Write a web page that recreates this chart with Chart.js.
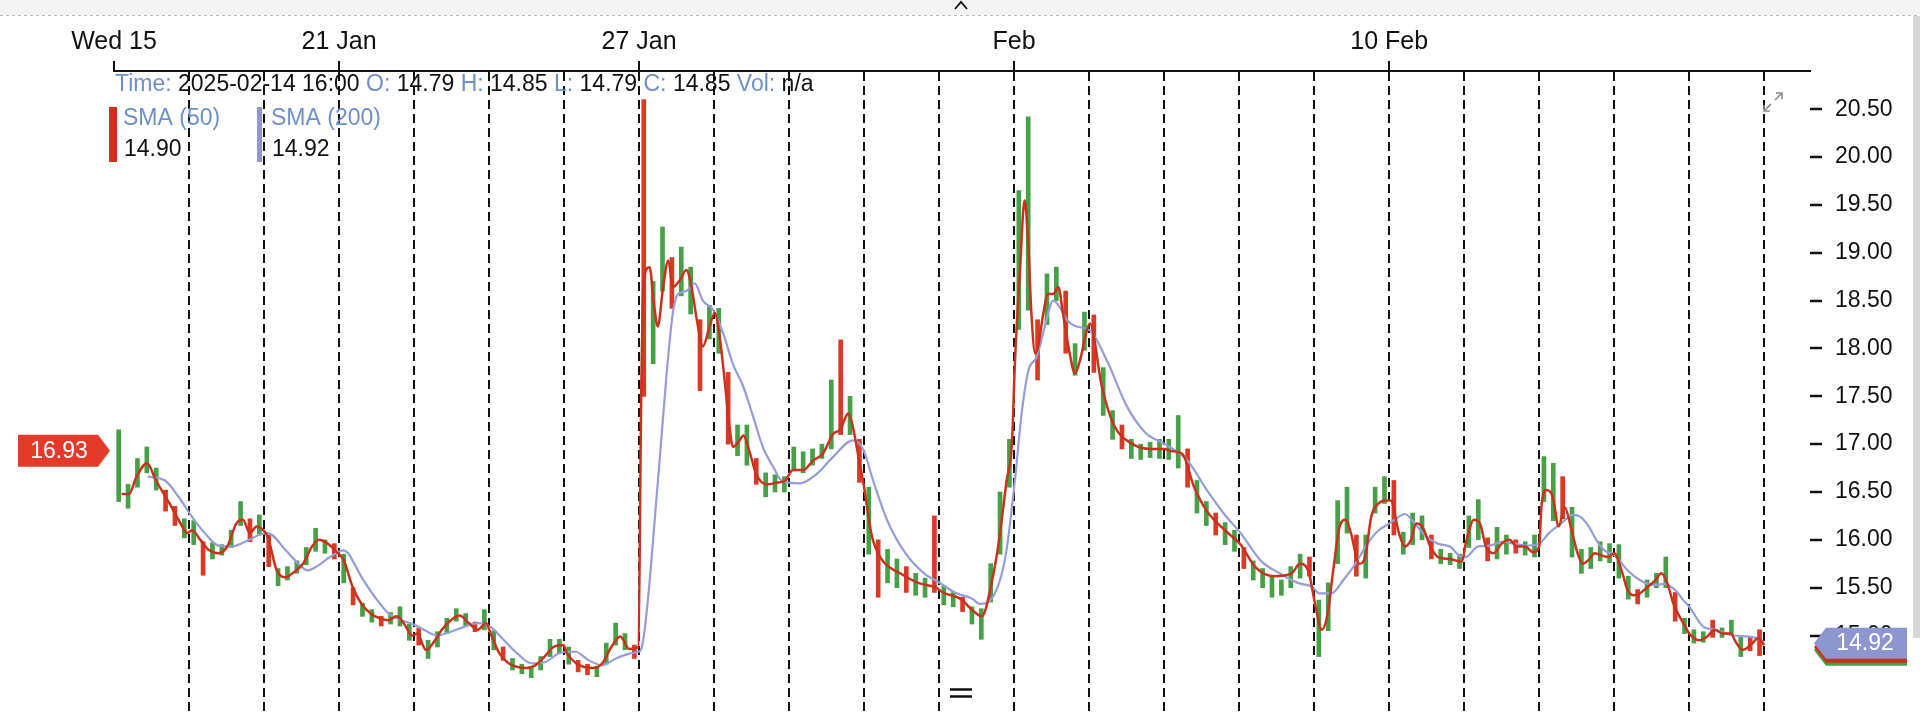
<!DOCTYPE html>
<html lang="en">
<head>
  <meta charset="UTF-8">
  <title>VIX 15 Jan - 14 Feb 2025</title>
  <script src="https://cdn.jsdelivr.net/npm/chart.js"></script>
  <style>
    html, body { margin: 0; padding: 0; background: #fff; overflow: hidden; }
    canvas { display: block; }
  </style>
</head>
<body>
  <canvas id="chart" width="1920" height="713"></canvas>

  <script>
    // x axis = trading day index (0 = Wed 15 Jan ... 21 = Fri 14 Feb)
    const dayLines = [0, 1, 2, 3, 4, 5, 6, 7, 8, 9, 10, 11, 12, 13, 14, 15, 16, 17, 18, 19, 20, 21, 22];
    const tickDays = [0, 3, 7, 12, 17];
    const tickLabels = ['Wed 15', '21 Jan', '27 Jan', 'Feb', '10 Feb'];
    const yTicks = [15.0, 15.5, 16.0, 16.5, 17.0, 17.5, 18.0, 18.5, 19.0, 19.5, 20.0, 20.5];

    // price bars, 8 per trading day (low / high / up-down)
    const barsPerDay = 8;
    const barLow = [
      16.40, 16.33, 16.55, 16.70, 16.52, 16.30, 16.15, 16.02,
      15.95, 15.63, 15.80, 15.84, 15.92, 16.15, 15.98, 16.05,
      15.72, 15.52, 15.58, 15.65, 15.74, 15.88, 15.86, 15.80,
      15.55, 15.32, 15.20, 15.14, 15.10, 15.12, 15.10, 14.95,
      14.90, 14.76, 14.88, 15.02, 15.15, 15.10, 15.04, 15.06,
      14.85, 14.74, 14.64, 14.60, 14.56, 14.64, 14.78, 14.82,
      14.70, 14.62, 14.59, 14.57, 14.70, 14.90, 14.85, 14.76,
      17.50, 17.84, 18.60, 18.42, 18.55, 18.36, 17.56, 18.10,
      17.95, 17.00, 16.88, 16.78, 16.58, 16.45, 16.50, 16.50,
      16.72, 16.70, 16.78, 16.85, 16.95, 17.10, 17.10, 16.60,
      15.85, 15.40, 15.55, 15.50, 15.45, 15.42, 15.40, 15.45,
      15.32, 15.30, 15.25, 15.12, 14.96, 15.35, 15.85, 16.55,
      18.20, 18.40, 17.67, 18.25, 18.50, 17.95, 17.72, 17.98,
      17.75, 17.30, 17.05, 16.95, 16.85, 16.84, 16.86, 16.85,
      16.84, 16.75, 16.55, 16.28, 16.15, 16.05, 15.95, 15.88,
      15.70, 15.58, 15.50, 15.40, 15.42, 15.50, 15.60, 15.62,
      14.78, 15.05, 15.75, 16.07, 15.62, 15.60, 16.28, 16.38,
      16.05, 15.85, 15.95, 16.00, 15.80, 15.75, 15.74, 15.70,
      15.92, 16.00, 15.78, 15.80, 15.85, 15.86, 15.84, 15.82,
      16.40, 16.20, 16.22, 15.82, 15.65, 15.70, 15.78, 15.76,
      15.60, 15.38, 15.33, 15.40, 15.50, 15.50, 15.15, 15.02,
      14.92, 14.93, 14.98, 14.98, 15.00, 14.78, 14.84, 14.79
    ];
    const barHigh = [
      17.15, 16.58, 16.85, 16.97, 16.75, 16.52, 16.35, 16.22,
      16.20, 15.98, 15.97, 15.95, 16.10, 16.40, 16.22, 16.26,
      16.05, 15.70, 15.72, 15.78, 15.92, 16.12, 16.00, 15.96,
      15.85, 15.50, 15.34, 15.27, 15.20, 15.24, 15.30, 15.12,
      15.08, 14.95, 15.04, 15.18, 15.28, 15.23, 15.14, 15.27,
      15.05, 14.88, 14.76, 14.70, 14.67, 14.78, 14.96, 14.96,
      14.88, 14.74, 14.70, 14.68, 14.92, 15.13, 15.02, 14.90,
      20.60, 18.70, 19.27, 18.95, 19.06, 18.85, 18.30, 18.45,
      18.42, 17.75, 17.20, 17.20, 16.85, 16.70, 16.68, 16.66,
      16.97, 16.92, 16.95, 17.00, 17.67, 18.09, 17.50, 17.05,
      16.55, 16.00, 15.90, 15.80, 15.72, 15.65, 15.60, 16.25,
      15.52, 15.45, 15.40, 15.30, 15.28, 15.75, 16.50, 17.05,
      19.65, 20.42, 18.30, 18.78, 18.85, 18.60, 18.05, 18.38,
      18.35, 17.80, 17.35, 17.20, 17.05, 17.00, 17.02, 17.05,
      17.05, 17.30, 16.95, 16.62, 16.40, 16.28, 16.18, 16.10,
      15.92, 15.78, 15.70, 15.62, 15.58, 15.72, 15.85, 15.82,
      15.37, 15.55, 16.41, 16.55, 16.05, 16.05, 16.55, 16.66,
      16.62, 16.08, 16.28, 16.25, 16.05, 15.90, 15.86, 15.85,
      16.25, 16.42, 16.02, 16.13, 16.05, 16.00, 15.98, 16.05,
      16.87, 16.80, 16.66, 16.34, 15.90, 15.92, 15.98, 15.96,
      15.95, 15.62, 15.48, 15.58, 15.65, 15.82, 15.45, 15.18,
      15.06, 15.04, 15.16, 15.08, 15.16, 14.98, 14.99, 15.06
    ];
    const barDir = [
      'uuuuuddu', 'uduuuudu', 'duuuuuud', 'uduuduuu', 'duuuuudu', 'uduuuuuu',
      'udduuuud', 'duuduudu', 'uduuduuu', 'uuuuudud', 'uduuduud', 'uuduuuuu',
      'uuduuduu', 'duuduuuu', 'uuduuduu', 'duuuuuud', 'uuuuduuu', 'duuuduuu',
      'uuduuduu', 'uuduuuuu', 'uuduuudu', 'uuduuudd'
    ].join('');

    // moving averages as [day, value]
    const sma50 = [
      [0.10, 16.48], [0.20, 16.48], [0.30, 16.66], [0.44, 16.80], [0.56, 16.62], [0.74, 16.38], [0.86, 16.21], [0.98, 16.07],
      [1.04, 16.10], [1.15, 16.00], [1.27, 15.89], [1.39, 15.86], [1.51, 15.93], [1.63, 16.17], [1.72, 16.21], [1.81, 16.07], [1.90, 16.14], [1.99, 16.10],
      [2.05, 16.03], [2.17, 15.68], [2.29, 15.61], [2.41, 15.67], [2.52, 15.75], [2.64, 15.93], [2.73, 16.00], [2.85, 15.96], [2.97, 15.87],
      [3.06, 15.79], [3.18, 15.51], [3.30, 15.33], [3.42, 15.23], [3.54, 15.18], [3.66, 15.16], [3.77, 15.20], [3.86, 15.13], [3.98, 15.00],
      [4.04, 15.02], [4.16, 14.85], [4.28, 14.95], [4.37, 15.06], [4.49, 15.16], [4.61, 15.21], [4.73, 15.13], [4.85, 15.06], [4.96, 15.13],
      [5.02, 15.02], [5.14, 14.81], [5.26, 14.71], [5.38, 14.67], [5.50, 14.66], [5.62, 14.69], [5.74, 14.78], [5.86, 14.88], [5.99, 14.90],
      [6.04, 14.81], [6.16, 14.71], [6.27, 14.67], [6.39, 14.66], [6.51, 14.71], [6.63, 14.88], [6.75, 14.99], [6.87, 14.86], [6.99, 14.88],
      [7.03, 17.60], [7.06, 18.70], [7.14, 18.85], [7.20, 18.45], [7.25, 18.23], [7.32, 18.64], [7.39, 18.92], [7.45, 18.64], [7.54, 18.71],
      [7.63, 18.82], [7.70, 18.64], [7.77, 18.30], [7.85, 18.02], [7.94, 18.23],
      [8.01, 18.37], [8.08, 18.09], [8.14, 17.67], [8.21, 17.15], [8.25, 16.97], [8.34, 17.04], [8.39, 17.09], [8.48, 16.90], [8.56, 16.69],
      [8.70, 16.58], [8.85, 16.60], [8.95, 16.62],
      [9.05, 16.73], [9.19, 16.73], [9.32, 16.83], [9.45, 16.90], [9.59, 17.11], [9.68, 17.15], [9.79, 17.32], [9.85, 17.18], [9.94, 16.80],
      [10.00, 16.55], [10.10, 16.05], [10.23, 15.80], [10.48, 15.65], [10.72, 15.55], [10.96, 15.50],
      [11.05, 15.45], [11.29, 15.38], [11.45, 15.26], [11.57, 15.20], [11.70, 15.55], [11.80, 16.00], [11.90, 16.62], [11.97, 17.00],
      [12.01, 17.84], [12.08, 18.85], [12.14, 19.55], [12.19, 19.06], [12.23, 18.37], [12.28, 17.95], [12.32, 18.02], [12.39, 18.37],
      [12.45, 18.57], [12.52, 18.57], [12.59, 18.64], [12.65, 18.37], [12.74, 17.95], [12.81, 17.74], [12.88, 17.88], [12.96, 18.16],
      [13.01, 18.26], [13.17, 17.60], [13.33, 17.20], [13.58, 17.00], [13.82, 16.95],
      [14.01, 16.95], [14.07, 16.93], [14.24, 16.90], [14.40, 16.55], [14.57, 16.30], [14.81, 16.10],
      [15.02, 15.95], [15.21, 15.72], [15.46, 15.62], [15.70, 15.65], [15.81, 15.75], [15.92, 15.68],
      [16.02, 15.30], [16.10, 15.06], [16.18, 15.23], [16.26, 15.72], [16.34, 16.14], [16.42, 16.21], [16.49, 16.07], [16.60, 15.75],
      [16.68, 15.82], [16.76, 16.24], [16.86, 16.38], [16.97, 16.41],
      [17.02, 16.41], [17.13, 16.07], [17.21, 15.93], [17.29, 16.00], [17.36, 16.17], [17.44, 16.14], [17.55, 15.93], [17.65, 15.82],
      [17.81, 15.80], [17.97, 15.77],
      [18.02, 15.96], [18.13, 16.21], [18.21, 16.17], [18.29, 15.93], [18.39, 15.86], [18.50, 15.96], [18.60, 16.00], [18.71, 15.93],
      [18.81, 15.93], [18.92, 15.87], [19.00, 15.93],
      [19.03, 16.35], [19.10, 16.52], [19.18, 16.45], [19.26, 16.14], [19.34, 16.34], [19.42, 16.14], [19.50, 15.89], [19.58, 15.75],
      [19.66, 15.79], [19.74, 15.86], [19.82, 15.84], [19.92, 15.82], [20.00, 15.86],
      [20.11, 15.65], [20.18, 15.47], [20.26, 15.42], [20.34, 15.44], [20.45, 15.51], [20.55, 15.58], [20.63, 15.65], [20.71, 15.54],
      [20.79, 15.33], [20.87, 15.20], [20.95, 15.09], [21.00, 15.02],
      [21.13, 14.95], [21.24, 14.99], [21.34, 15.06], [21.45, 15.02], [21.55, 15.02], [21.63, 14.92], [21.71, 14.85], [21.82, 14.90],
      [21.92, 14.97], [22.00, 14.90]
    ];
    const sma200 = [
      [0.45, 16.66], [0.68, 16.62], [0.86, 16.45], [1.04, 16.24], [1.21, 16.07], [1.39, 15.94], [1.57, 15.93], [1.75, 15.98], [1.93, 16.05],
      [2.05, 16.07], [2.29, 15.89], [2.46, 15.75], [2.58, 15.68], [2.70, 15.72], [2.88, 15.82], [3.06, 15.89],
      [3.12, 15.86], [3.30, 15.61], [3.48, 15.40], [3.66, 15.23], [3.83, 15.16], [4.01, 15.11],
      [4.13, 15.06], [4.31, 15.00], [4.49, 15.04], [4.67, 15.09], [4.85, 15.13], [5.02, 15.09],
      [5.20, 14.95], [5.38, 14.81], [5.56, 14.71], [5.74, 14.72], [5.92, 14.81], [6.04, 14.83],
      [6.15, 14.83], [6.33, 14.74], [6.51, 14.69], [6.69, 14.76], [6.87, 14.81], [6.99, 14.83],
      [7.03, 14.86], [7.25, 16.60], [7.36, 17.67], [7.45, 18.37], [7.52, 18.57], [7.63, 18.60], [7.74, 18.68], [7.85, 18.50], [7.99, 18.40],
      [8.12, 18.16], [8.25, 17.84], [8.39, 17.60], [8.52, 17.29], [8.65, 16.97], [8.79, 16.76], [8.90, 16.62], [9.14, 16.59],
      [9.37, 16.69], [9.59, 16.87], [9.85, 17.04], [9.99, 16.94], [10.12, 16.62],
      [10.31, 16.20], [10.56, 15.85], [10.80, 15.65], [11.01, 15.55],
      [11.21, 15.45], [11.45, 15.38], [11.54, 15.33], [11.73, 15.42], [11.89, 15.85], [12.01, 16.62],
      [12.10, 17.32], [12.19, 17.77], [12.30, 17.91], [12.41, 18.23], [12.52, 18.50], [12.61, 18.43], [12.70, 18.30], [12.83, 18.23], [13.01, 18.19],
      [13.25, 17.85], [13.50, 17.40], [13.75, 17.12], [14.01, 17.00],
      [14.31, 16.83], [14.57, 16.52], [14.81, 16.26], [15.02, 16.07],
      [15.29, 15.78], [15.54, 15.65], [15.78, 15.55], [15.97, 15.51],
      [16.07, 15.44], [16.23, 15.44], [16.39, 15.58], [16.55, 15.75], [16.71, 15.96], [16.86, 16.10], [17.00, 16.17],
      [17.07, 16.21], [17.21, 16.27], [17.34, 16.17], [17.50, 16.03], [17.65, 15.96], [17.81, 15.93], [17.97, 15.82],
      [18.02, 15.82], [18.18, 15.93], [18.34, 15.94], [18.50, 15.98], [18.66, 15.96], [18.81, 15.94], [19.00, 15.96],
      [19.13, 16.07], [19.29, 16.17], [19.45, 16.26], [19.55, 16.24], [19.66, 16.14], [19.76, 16.00], [19.87, 15.89], [20.00, 15.84],
      [20.18, 15.68], [20.34, 15.58], [20.45, 15.54], [20.55, 15.53], [20.66, 15.54], [20.82, 15.47], [20.92, 15.37], [21.00, 15.30],
      [21.19, 15.09], [21.34, 15.06], [21.50, 15.02], [21.61, 15.00], [21.77, 14.99], [21.92, 14.97], [22.00, 14.93]
    ];

    // header texts
    const infoLabels = ['Time:', 'O:', 'H:', 'L:', 'C:', 'Vol:'];
    const infoValues = ['2025-02-14 16:00', '14.79', '14.85', '14.79', '14.85', 'n/a'];
    const smaNames = ['SMA (50)', 'SMA (200)'];
    const smaLast = ['14.90', '14.92'];
    const firstPrice = 16.93;
    const lastPrice = 14.92;

    const FONT = '"Liberation Sans", Arial, sans-serif';
    const GREEN = '#45a046';
    const RED = '#d93a26';
    const SMA50_COLOR = '#c9321d';
    const SMA200_COLOR = '#949dd8';
    const LABEL_BLUE = '#6f90c6';
    const INK = '#111';

    const barTime = barLow.map((_, i) => (i + 0.5) / barsPerDay);

    const overlay = {
      id: 'overlay',
      beforeDraw(chart) {
        const ctx = chart.ctx;
        ctx.save();
        ctx.fillStyle = '#fff';
        ctx.fillRect(0, 0, chart.width, chart.height);
        // top strip of the page
        ctx.fillStyle = '#f3f3f3';
        ctx.fillRect(0, 0, chart.width, 15);
        ctx.strokeStyle = '#b8b8b8';
        ctx.lineWidth = 1;
        ctx.setLineDash([3, 3]);
        ctx.beginPath();
        ctx.moveTo(0, 15.5);
        ctx.lineTo(chart.width, 15.5);
        ctx.stroke();
        ctx.restore();
      },
      afterDraw(chart) {
        const ctx = chart.ctx;
        const ys = chart.scales.y;
        ctx.save();
        ctx.textBaseline = 'middle';
        ctx.font = '23px ' + FONT;

        // info line
        let x = 115;
        infoLabels.forEach((lab, i) => {
          ctx.fillStyle = LABEL_BLUE;
          ctx.fillText(lab + ' ', x, 85);
          x += ctx.measureText(lab + ' ').width;
          ctx.fillStyle = INK;
          ctx.fillText(infoValues[i] + ' ', x, 85);
          x += ctx.measureText(infoValues[i] + ' ').width;
        });

        // indicator legend
        const legX = [109, 257];
        const legW = [8, 5];
        const legC = [SMA50_COLOR, '#8f97d1'];
        smaNames.forEach((name, i) => {
          ctx.fillStyle = legC[i];
          ctx.fillRect(legX[i], 107, legW[i], 55);
          ctx.fillStyle = LABEL_BLUE;
          ctx.fillText(name, legX[i] + 14, 119);
          ctx.fillStyle = INK;
          ctx.fillText(smaLast[i], legX[i] + 15, 150);
        });

        // left price tag
        const ly = ys.getPixelForValue(firstPrice);
        ctx.fillStyle = '#e5392a';
        ctx.beginPath();
        ctx.moveTo(18, ly - 16);
        ctx.lineTo(98, ly - 16);
        ctx.lineTo(110, ly);
        ctx.lineTo(98, ly + 16);
        ctx.lineTo(18, ly + 16);
        ctx.closePath();
        ctx.fill();
        ctx.fillStyle = '#fff';
        ctx.textAlign = 'center';
        ctx.fillText(firstPrice.toFixed(2), 59, ly + 1);

        // right price tag (stacked)
        const ry = ys.getPixelForValue(lastPrice);
        const tag = (dy, color) => {
          ctx.fillStyle = color;
          ctx.beginPath();
          ctx.moveTo(1814, ry + dy);
          ctx.lineTo(1826, ry + dy - 15.5);
          ctx.lineTo(1907, ry + dy - 15.5);
          ctx.lineTo(1907, ry + dy + 15.5);
          ctx.lineTo(1826, ry + dy + 15.5);
          ctx.closePath();
          ctx.fill();
        };
        tag(7, GREEN);
        tag(4, SMA50_COLOR);
        tag(0, '#8d96cf');
        ctx.fillStyle = '#fff';
        ctx.fillText(lastPrice.toFixed(2), 1865, ry + 1);

        // expand icon
        ctx.strokeStyle = '#8c8c8c';
        ctx.lineWidth = 1.6;
        ctx.beginPath();
        ctx.moveTo(1771, 104); ctx.lineTo(1764, 111);
        ctx.moveTo(1764, 105); ctx.lineTo(1764, 111); ctx.lineTo(1770, 111);
        ctx.moveTo(1775, 100); ctx.lineTo(1782, 93);
        ctx.moveTo(1776, 93); ctx.lineTo(1782, 93); ctx.lineTo(1782, 99);
        ctx.stroke();

        // caret at top and handle at bottom
        ctx.strokeStyle = INK;
        ctx.lineWidth = 1.8;
        ctx.beginPath();
        ctx.moveTo(955, 9); ctx.lineTo(961, 2); ctx.lineTo(967, 9);
        ctx.stroke();
        ctx.lineWidth = 2.3;
        ctx.beginPath();
        ctx.moveTo(950, 689.5); ctx.lineTo(972, 689.5);
        ctx.moveTo(950, 696.5); ctx.lineTo(972, 696.5);
        ctx.stroke();

        // scrollbar
        ctx.fillStyle = '#d7d7d7';
        ctx.fillRect(1913, 16, 7, 622);
        ctx.restore();
      }
    };

    new Chart(document.getElementById('chart'), {
      type: 'line',
      data: {
        datasets: [
          {
            type: 'line',
            label: 'SMA (50)',
            data: sma50.map(p => ({ x: p[0], y: p[1] })),
            borderColor: SMA50_COLOR,
            borderWidth: 2.5,
            pointRadius: 0,
            cubicInterpolationMode: 'monotone',
            order: 1
          },
          {
            type: 'line',
            label: 'SMA (200)',
            data: sma200.map(p => ({ x: p[0], y: p[1] })),
            borderColor: SMA200_COLOR,
            borderWidth: 2.2,
            pointRadius: 0,
            cubicInterpolationMode: 'monotone',
            order: 2
          },
          {
            type: 'bar',
            label: 'VIX',
            data: barLow.map((lo, i) => ({ x: barTime[i], y: [lo, barHigh[i]] })),
            backgroundColor: barDir.split('').map(d => d === 'u' ? GREEN : RED),
            barThickness: 4,
            grouped: false,
            order: 3
          }
        ]
      },
      options: {
        responsive: false,
        animation: false,
        events: [],
        layout: { padding: { left: 114, right: 0, top: 0, bottom: 0 } },
        plugins: {
          legend: { display: false },
          tooltip: { enabled: false }
        },
        scales: {
          x: {
            type: 'linear',
            position: 'top',
            min: 0,
            max: 22.61,
            offset: false,
            afterBuildTicks: s => { s.ticks = dayLines.map(v => ({ value: v })); },
            afterFit: s => { s.height = 71; s.paddingLeft = 0; s.paddingRight = 0; },
            ticks: {
              autoSkip: false,
              maxRotation: 0,
              padding: 4,
              color: INK,
              font: { family: FONT, size: 25 },
              callback: v => {
                const i = tickDays.indexOf(v);
                return i < 0 ? '' : tickLabels[i];
              }
            },
            grid: {
              offset: false,
              lineWidth: 2,
              color: c => (c.tick && c.tick.value === 0) ? 'rgba(0,0,0,0)' : INK,
              tickLength: 10,
              tickWidth: 2,
              tickColor: c => (c.tick && tickDays.includes(c.tick.value)) ? INK : 'rgba(0,0,0,0)',
              borderDash: [9, 5]
            },
            border: { display: true, color: INK, width: 2, dash: [9, 5] }
          },
          y: {
            type: 'linear',
            position: 'right',
            min: 14.19,
            max: 20.9,
            afterBuildTicks: s => { s.ticks = yTicks.map(v => ({ value: v })); },
            afterFit: s => { s.width = 110; s.paddingTop = 0; s.paddingBottom = 0; },
            ticks: {
              padding: 13,
              color: INK,
              font: { family: FONT, size: 23 },
              callback: v => Number(v).toFixed(2)
            },
            grid: {
              drawOnChartArea: false,
              drawTicks: true,
              tickLength: 12,
              tickWidth: 2.5,
              tickColor: INK,
              lineWidth: 0
            },
            border: { display: false }
          }
        }
      },
      plugins: [overlay]
    });
  </script>
</body>
</html>
